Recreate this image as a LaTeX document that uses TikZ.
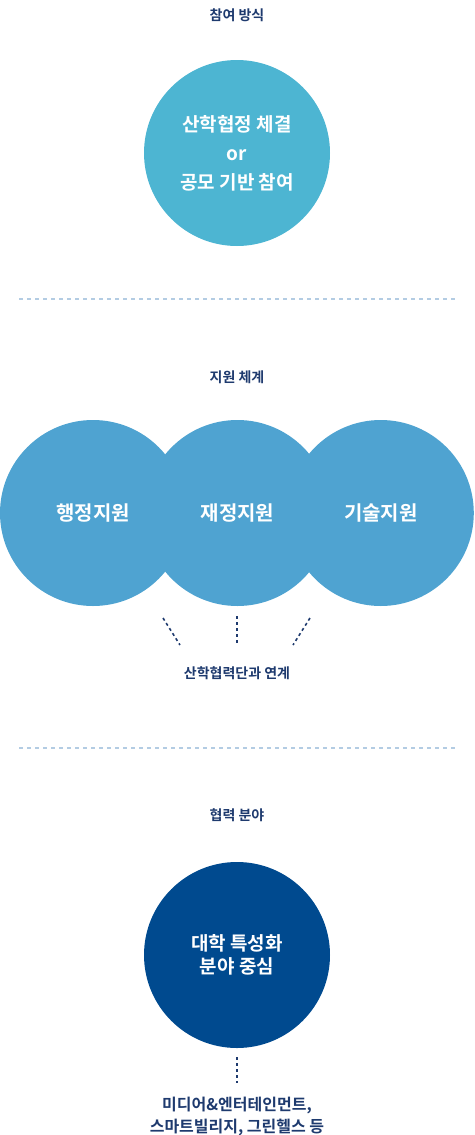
\documentclass[tikz,border=0pt]{standalone}
\usepackage{fontspec}
\setmainfont{Noto Sans CJK KR}[BoldFont={* Bold}]
\usetikzlibrary{positioning}

\definecolor{navy}{HTML}{1E3A6E}
\definecolor{skyblue}{HTML}{4DB5D2}
\definecolor{midblue}{HTML}{4FA3D1}
\definecolor{deepblue}{HTML}{004A8F}
\definecolor{sepblue}{HTML}{B3CCE3}

\tikzset{
    heading/.style={font=\bfseries\fontsize{14}{16}\selectfont, text=navy},
    bubble/.style={circle, fill=#1, minimum size=186pt, inner sep=0pt, align=center,
        text=white, font=\bfseries\fontsize{19}{29}\selectfont},
    separator/.style={sepblue, line width=2pt, dash pattern=on 4pt off 4pt},
    link/.style={navy, line width=1.6pt, dash pattern=on 3pt off 3pt},
}

\begin{document}
\begin{tikzpicture}[x=1pt, y=-1pt]
    \useasboundingbox (0,0) rectangle (474,1135);

    % participation
    \node [heading] (head1) at (237,15) {참여 방식};
    \node [bubble=skyblue] (way) at (237,153) {산학협정 체결\\or\\공모 기반 참여};

    \coordinate (sep1a) at (19,299);
    \coordinate (sep1b) at (455,299);
    \draw [separator] (sep1a) -- (sep1b);

    % support
    \node [heading] (head2) at (237,377) {지원 체계};
    \node [bubble=midblue, font=\bfseries\fontsize{20}{24}\selectfont] (admin) at (93,513) {행정지원};
    \node [bubble=midblue, font=\bfseries\fontsize{20}{24}\selectfont, right=-42pt of admin] (fund) {재정지원};
    \node [bubble=midblue, font=\bfseries\fontsize{20}{24}\selectfont, right=-43pt of fund] (tech) {기술지원};
    \node [heading] (coop) at (237,673) {산학협력단과 연계};

    \coordinate (l1) at (163,618);
    \coordinate (l2) at (180,645);
    \coordinate (m1) at (237,616);
    \coordinate (m2) at (237,645);
    \coordinate (r1) at (310,618);
    \coordinate (r2) at (293,645);
    \draw [link] (l1) -- (l2);
    \draw [link] (m1) -- (m2);
    \draw [link] (r1) -- (r2);

    \coordinate (sep2a) at (19,748);
    \coordinate (sep2b) at (455,748);
    \draw [separator] (sep2a) -- (sep2b);

    % fields
    \node [heading] (head3) at (237,815) {협력 분야};
    \node [bubble=deepblue, font=\bfseries\fontsize{19}{23}\selectfont] (field) at (237,955)
        {대학 특성화\\분야 중심};
    \node [heading, align=center, font=\bfseries\fontsize{16}{22}\selectfont] (list) at (237,1116)
        {미디어\&엔터테인먼트,\\스마트빌리지, 그린헬스 등};

    \coordinate (f1) at (237,1057);
    \coordinate (f2) at (237,1083);
    \draw [link] (f1) -- (f2);
\end{tikzpicture}
\end{document}
